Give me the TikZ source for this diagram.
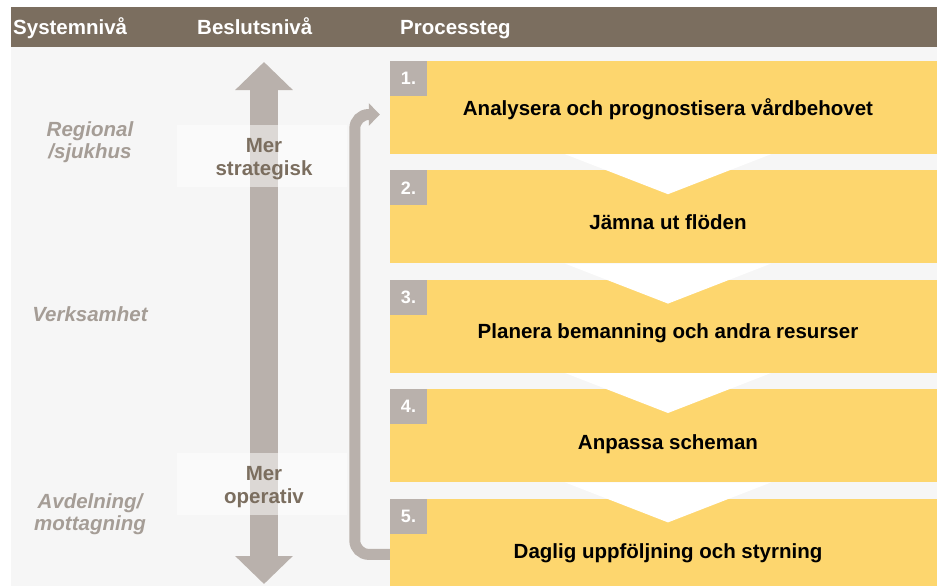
\documentclass[tikz,border=0pt]{standalone}
\usepackage{fontspec}
\setmainfont{Liberation Sans}
\setsansfont{Liberation Sans}
\usetikzlibrary{calc}
\usetikzlibrary{positioning}
\usetikzlibrary{chains}
\usetikzlibrary{arrows.meta}
\definecolor{kopf}{HTML}{7B6E5F}
\definecolor{grundgrau}{HTML}{F6F6F6}
\definecolor{pfeilgrau}{HTML}{B9B1AC}
\definecolor{gelb}{HTML}{FDD66E}
\definecolor{etikett}{HTML}{A59D96}
\tikzset{
	kopftext/.style={
		anchor=base west,
		inner sep=0pt,
		text=white,
		font=\bfseries\fontsize{20.5}{24}\selectfont},
	steg/.style={
		rectangle,
		fill=gelb,
		minimum width=556pt,
		minimum height=93pt,
		inner sep=0pt,
		on chain},
	stegtext/.style={
		anchor=base,
		inner sep=0pt,
		font=\bfseries\fontsize{20.5}{24}\selectfont},
	nummer/.style={
		anchor=north west,
		fill=pfeilgrau,
		minimum width=37pt,
		minimum height=35pt,
		inner sep=0pt,
		text=white,
		font=\bfseries\fontsize{18}{22}\selectfont},
	stufe/.style={
		fill=white, fill opacity=.5, text opacity=1,
		minimum width=170pt,
		minimum height=62pt,
		inner sep=0pt,
		align=center,
		text=kopf,
		font=\bfseries\fontsize{20.5}{23}\selectfont},
	ebene/.style={
		align=center,
		text=etikett,
		font=\bfseries\itshape\fontsize{20.5}{22}\selectfont},
	skala/.style={draw=pfeilgrau, line width=28pt,
		{Triangle[length=28pt,width=56pt]}-{Triangle[length=28pt,width=56pt]}},
	rueck/.style={draw=pfeilgrau, line width=11pt, rounded corners=14pt,
		-{Triangle[length=11pt,width=22pt]}},
}
\begin{document}
\begin{tikzpicture}[x=1pt,y=-1pt,
	node distance=16pt,
	start chain=going below]
	\clip (0,0) rectangle (937,586);
	% hintergrund und kopfzeile
	\fill[grundgrau] (11,47) rectangle (937,586);
	\fill[kopf] (11,7) rectangle (937,47);
	\node[kopftext] (sys) at (13,35) {Systemnivå};
	\node[kopftext] (besl) at (197,35) {Beslutsnivå};
	\node[kopftext] (proz) at (400,35) {Processteg};
	
	% systemnivåer
	\node[ebene] (regional) at (90,142) {Regional\\/sjukhus};
	\node[ebene] (verks) at (90,314) {Verksamhet};
	\node[ebene] (avd) at (90,514) {Avdelning/\\mottagning};
	
	% beslutsnivå
	\coordinate (oben) at (264,62);
	\coordinate (unten) at (264,584);
	\draw[skala] (oben) -- (unten);
	\node[stufe] (strat) at (262,156) {};
	\node[stufe] (oper) at (262,484) {};
	\node[stufe, fill=none, minimum height=0pt] (strat-text) at (264,159) {Mer\\strategisk};
	\node[stufe, fill=none, minimum height=0pt] (oper-text) at (264,487) {Mer\\operativ};
	
	% processteg
	\node[steg] (eins) at (668,107.5) {};
	\node[steg] (zwei) {};
	\node[steg] (drei) {};
	\node[steg] (vier) {};
	\node[steg] (fuenf) {};
	\foreach \a/\b in {eins/zwei,zwei/drei,drei/vier,vier/fuenf}
		\fill[white] ($(\a.south)+(-103,0)$) -- ($(\a.south)+(103,0)$)
			-- ($(\a.south)+(0,40)$) -- cycle;
	\foreach \n/\t in {eins/1.,zwei/2.,drei/3.,vier/4.,fuenf/5.}
		\node[nummer] (nr-\n) at (\n.north west) {\t};
	\node[stegtext] (t-eins) at ($(eins.north)+(0,55)$) {Analysera och prognostisera vårdbehovet};
	\node[stegtext] (t-zwei) at ($(zwei.north)+(0,59)$) {Jämna ut flöden};
	\node[stegtext] (t-drei) at ($(drei.north)+(0,59)$) {Planera bemanning och andra resurser};
	\node[stegtext] (t-vier) at ($(vier.north)+(0,60)$) {Anpassa scheman};
	\node[stegtext] (t-fuenf) at ($(fuenf.north)+(0,60)$) {Daglig uppföljning och styrning};
	
	% rückkopplung
	\coordinate (rstart) at ($(fuenf.north west)+(0,56)$);
	\coordinate (rziel) at ($(eins.west)+(-10,7)$);
	\draw[rueck] (rstart) -- ++(-35,0) |- (rziel);
\end{tikzpicture}
\end{document}
